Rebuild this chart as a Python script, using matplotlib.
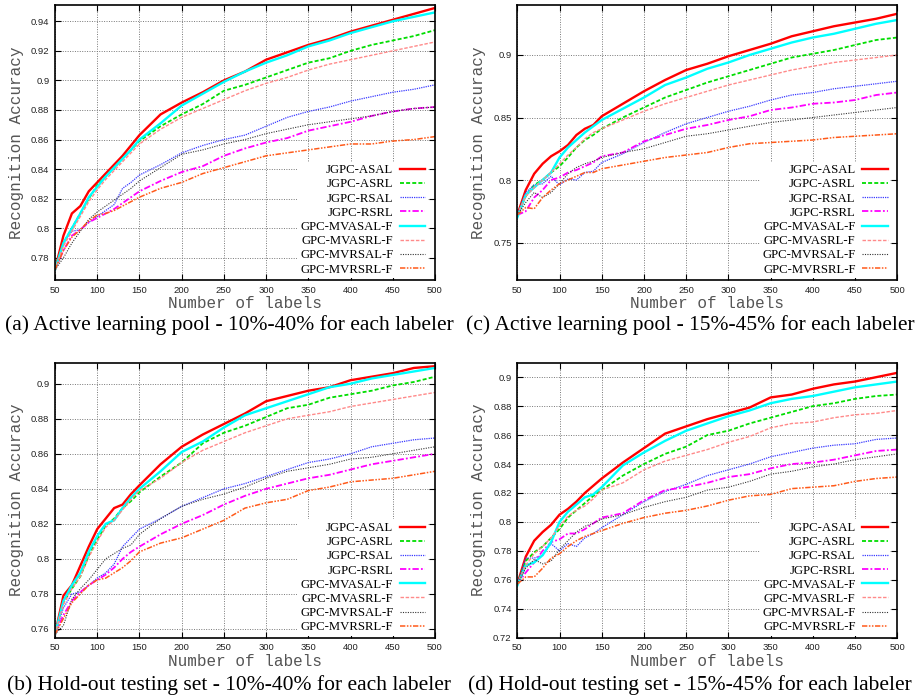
import matplotlib
matplotlib.use("Agg")
import matplotlib.pyplot as plt

x_labels = [50, 60, 70, 80, 90, 100, 110, 120, 130, 140, 150, 175, 200, 225, 250,
            275, 300, 325, 350, 375, 400, 425, 450, 475, 500]

series_names = ["JGPC-ASAL", "JGPC-ASRL", "JGPC-RSAL", "JGPC-RSRL",
                "GPC-MVASAL-F", "GPC-MVASRL-F", "GPC-MVRSAL-F", "GPC-MVRSRL-F"]

# (a) Active learning pool - 10%-40%
a_asal = [0.772,0.795,0.810,0.815,0.825,0.831,0.837,0.843,0.849,0.856,0.863,0.877,0.885,0.892,0.900,0.906,0.914,0.919,0.924,0.928,0.933,0.937,0.941,0.945,0.949]
a_asrl = [0.772,0.790,0.800,0.810,0.820,0.829,0.835,0.841,0.847,0.853,0.859,0.869,0.877,0.884,0.893,0.897,0.902,0.907,0.912,0.915,0.920,0.924,0.927,0.930,0.934]
a_rsal = [0.772,0.790,0.798,0.799,0.804,0.808,0.812,0.816,0.827,0.831,0.836,0.843,0.851,0.856,0.860,0.863,0.869,0.875,0.879,0.882,0.886,0.889,0.892,0.894,0.897]
a_rsrl = [0.772,0.785,0.795,0.799,0.804,0.807,0.810,0.813,0.817,0.821,0.825,0.832,0.838,0.842,0.849,0.854,0.858,0.861,0.866,0.869,0.872,0.876,0.879,0.881,0.882]
a_mvasal = [0.772,0.790,0.800,0.810,0.821,0.828,0.835,0.841,0.847,0.853,0.860,0.871,0.883,0.891,0.899,0.906,0.912,0.917,0.923,0.927,0.932,0.936,0.940,0.943,0.946]
a_mvasrl = [0.772,0.788,0.798,0.808,0.818,0.826,0.833,0.839,0.845,0.851,0.857,0.867,0.875,0.881,0.887,0.893,0.898,0.902,0.907,0.911,0.914,0.917,0.920,0.923,0.926]
a_mvrsal = [0.772,0.780,0.790,0.798,0.806,0.811,0.815,0.819,0.823,0.827,0.832,0.841,0.850,0.853,0.857,0.860,0.864,0.867,0.870,0.872,0.874,0.876,0.879,0.881,0.882]
a_mvrsrl = [0.772,0.785,0.794,0.799,0.805,0.809,0.810,0.812,0.815,0.818,0.821,0.827,0.831,0.837,0.841,0.845,0.849,0.851,0.853,0.855,0.857,0.857,0.859,0.860,0.862]

# (c) Active learning pool - 15%-45%
c_asal = [0.772,0.792,0.805,0.813,0.819,0.823,0.828,0.836,0.841,0.844,0.851,0.861,0.871,0.880,0.888,0.893,0.899,0.904,0.909,0.915,0.919,0.923,0.926,0.929,0.933]
c_asrl = [0.772,0.787,0.796,0.800,0.806,0.811,0.818,0.826,0.832,0.836,0.841,0.850,0.858,0.866,0.872,0.878,0.883,0.888,0.893,0.898,0.901,0.904,0.908,0.912,0.914]
c_rsal = [0.772,0.790,0.796,0.797,0.803,0.796,0.801,0.800,0.806,0.807,0.814,0.821,0.830,0.838,0.845,0.850,0.855,0.859,0.864,0.868,0.870,0.873,0.875,0.877,0.879]
c_rsrl = [0.772,0.775,0.786,0.792,0.800,0.802,0.806,0.808,0.811,0.814,0.819,0.822,0.831,0.836,0.841,0.844,0.848,0.851,0.856,0.858,0.861,0.862,0.864,0.868,0.870]
c_mvasal = [0.770,0.788,0.794,0.800,0.806,0.818,0.826,0.832,0.838,0.843,0.848,0.857,0.866,0.876,0.882,0.889,0.894,0.900,0.905,0.910,0.914,0.917,0.921,0.925,0.928]
c_mvasrl = [0.772,0.787,0.794,0.800,0.806,0.813,0.820,0.826,0.833,0.838,0.841,0.848,0.855,0.861,0.866,0.871,0.876,0.880,0.884,0.888,0.891,0.894,0.896,0.898,0.900]
c_mvrsal = [0.772,0.782,0.790,0.786,0.790,0.797,0.805,0.810,0.813,0.815,0.818,0.822,0.825,0.830,0.835,0.837,0.840,0.843,0.846,0.848,0.850,0.852,0.854,0.856,0.858]
c_mvrsrl = [0.772,0.778,0.777,0.786,0.792,0.797,0.800,0.803,0.806,0.806,0.809,0.812,0.815,0.818,0.820,0.822,0.826,0.829,0.830,0.831,0.832,0.834,0.835,0.836,0.837]

# (b) Hold-out testing set - 10%-40%
b_asal = [0.757,0.779,0.785,0.796,0.807,0.817,0.823,0.829,0.831,0.837,0.842,0.854,0.864,0.871,0.877,0.883,0.890,0.893,0.896,0.898,0.902,0.904,0.906,0.909,0.910]
b_asrl = [0.757,0.775,0.783,0.790,0.802,0.811,0.819,0.823,0.829,0.833,0.838,0.847,0.855,0.866,0.872,0.876,0.881,0.886,0.888,0.892,0.894,0.896,0.899,0.901,0.904]
b_rsal = [0.757,0.772,0.780,0.781,0.785,0.789,0.792,0.797,0.807,0.812,0.817,0.823,0.830,0.835,0.840,0.843,0.847,0.851,0.855,0.857,0.860,0.864,0.866,0.868,0.869]
b_rsrl = [0.757,0.768,0.776,0.781,0.785,0.788,0.791,0.795,0.800,0.804,0.807,0.814,0.820,0.825,0.831,0.836,0.840,0.843,0.846,0.848,0.851,0.854,0.856,0.858,0.860]
b_mvasal = [0.757,0.776,0.785,0.792,0.804,0.813,0.820,0.822,0.829,0.835,0.840,0.850,0.861,0.867,0.875,0.882,0.886,0.890,0.894,0.898,0.900,0.903,0.905,0.907,0.909]
b_mvasrl = [0.757,0.774,0.783,0.790,0.801,0.810,0.818,0.822,0.828,0.834,0.839,0.846,0.855,0.862,0.867,0.872,0.876,0.880,0.882,0.884,0.887,0.889,0.891,0.893,0.895]
b_mvrsal = [0.757,0.762,0.777,0.783,0.788,0.794,0.800,0.803,0.806,0.808,0.814,0.823,0.830,0.834,0.837,0.841,0.846,0.850,0.852,0.854,0.857,0.858,0.860,0.862,0.864]
b_mvrsrl = [0.757,0.766,0.775,0.780,0.785,0.788,0.789,0.792,0.795,0.799,0.804,0.809,0.812,0.817,0.822,0.829,0.832,0.834,0.839,0.841,0.844,0.845,0.846,0.848,0.850]

# (d) Hold-out testing set - 15%-45%
d_asal = [0.757,0.776,0.787,0.793,0.798,0.805,0.809,0.814,0.820,0.825,0.830,0.841,0.851,0.861,0.866,0.871,0.875,0.879,0.886,0.888,0.892,0.895,0.897,0.900,0.903]
d_asrl = [0.757,0.773,0.779,0.783,0.789,0.795,0.803,0.808,0.813,0.818,0.822,0.832,0.840,0.847,0.852,0.860,0.863,0.868,0.872,0.876,0.880,0.882,0.885,0.887,0.888]
d_rsal = [0.757,0.775,0.775,0.777,0.785,0.780,0.785,0.783,0.789,0.792,0.796,0.805,0.814,0.821,0.826,0.832,0.836,0.840,0.845,0.848,0.851,0.853,0.854,0.857,0.858]
d_rsrl = [0.757,0.765,0.772,0.780,0.786,0.788,0.792,0.792,0.795,0.799,0.803,0.806,0.815,0.822,0.824,0.827,0.831,0.833,0.837,0.840,0.841,0.843,0.846,0.849,0.850]
d_mvasal = [0.756,0.770,0.772,0.777,0.786,0.800,0.807,0.812,0.817,0.819,0.824,0.839,0.848,0.856,0.863,0.868,0.873,0.877,0.882,0.885,0.887,0.890,0.893,0.895,0.897]
d_mvasrl = [0.757,0.770,0.778,0.783,0.789,0.797,0.804,0.808,0.811,0.816,0.822,0.827,0.836,0.842,0.846,0.850,0.855,0.859,0.865,0.868,0.869,0.872,0.874,0.875,0.877]
d_mvrsal = [0.757,0.768,0.774,0.771,0.773,0.781,0.787,0.793,0.797,0.799,0.802,0.805,0.810,0.814,0.817,0.822,0.824,0.828,0.833,0.835,0.838,0.840,0.843,0.845,0.847]
d_mvrsrl = [0.757,0.762,0.762,0.768,0.775,0.778,0.783,0.787,0.790,0.792,0.794,0.799,0.803,0.806,0.808,0.811,0.815,0.818,0.819,0.823,0.824,0.825,0.828,0.830,0.831]

captions = ["(a) Active learning pool - 10%-40% for each labeler",
            "(c) Active learning pool - 15%-45% for each labeler",
            "(b) Hold-out testing set - 10%-40% for each labeler",
            "(d) Hold-out testing set - 15%-45% for each labeler"]

panel_data = [
    [a_asal, a_asrl, a_rsal, a_rsrl, a_mvasal, a_mvasrl, a_mvrsal, a_mvrsrl],
    [c_asal, c_asrl, c_rsal, c_rsrl, c_mvasal, c_mvasrl, c_mvrsal, c_mvrsrl],
    [b_asal, b_asrl, b_rsal, b_rsrl, b_mvasal, b_mvasrl, b_mvrsal, b_mvrsrl],
    [d_asal, d_asrl, d_rsal, d_rsrl, d_mvasal, d_mvasrl, d_mvrsal, d_mvrsrl],
]

y_limits = [(0.765, 0.951), (0.72, 0.94), (0.755, 0.912), (0.72, 0.91)]
y_ticks = [
    [0.78, 0.80, 0.82, 0.84, 0.86, 0.88, 0.90, 0.92, 0.94],
    [0.75, 0.80, 0.85, 0.90],
    [0.76, 0.78, 0.80, 0.82, 0.84, 0.86, 0.88, 0.90],
    [0.72, 0.74, 0.76, 0.78, 0.80, 0.82, 0.84, 0.86, 0.88, 0.90],
]
x_ticks = [50, 100, 150, 200, 250, 300, 350, 400, 450, 500]

styles = [
    dict(color="#ff0000", lw=1.7, ls="-"),
    dict(color="#00dd00", lw=1.3, ls=(0, (2.2, 1.2))),
    dict(color="#3a3aff", lw=0.9, ls=(0, (1, 0.8))),
    dict(color="#ff00ff", lw=1.3, ls=(0, (3.5, 1.2, 1, 1.2))),
    dict(color="#00ffff", lw=1.7, ls="-"),
    dict(color="#ff8a8a", lw=1.0, ls=(0, (2.5, 1.2))),
    dict(color="#333333", lw=0.8, ls=(0, (1, 1.2))),
    dict(color="#ff5a1a", lw=1.1, ls=(0, (3.5, 1, 1, 1, 1, 1))),
]

fig = plt.figure(figsize=(9.19, 7.00), dpi=100)

W = 380 / 919
H = 275 / 700
positions = [
    (55 / 919, 1 - 280 / 700, W, H),
    (517.3 / 919, 1 - 280 / 700, W, H),
    (55 / 919, 1 - 637.7 / 700, W, H),
    (517.3 / 919, 1 - 637.7 / 700, W, H),
]
caption_pos = [(229, 325), (690, 325), (229, 685), (690, 685)]

for k in range(4):
    ax = fig.add_axes(positions[k])
    for name, vals, st in zip(series_names, panel_data[k], styles):
        ax.plot(x_labels, vals, label=name, color=st["color"], lw=st["lw"],
                ls=st["ls"], solid_joinstyle="miter")
    ax.set_xlim(50, 500)
    ax.set_ylim(*y_limits[k])
    ax.set_xticks(x_ticks)
    ax.set_yticks(y_ticks[k])
    ax.set_yticklabels([("%g" % v) for v in y_ticks[k]])
    ax.grid(True, color="#777777", ls=(0, (1, 1.5)), lw=0.7)
    ax.tick_params(direction="in", length=4, width=0.8, top=True, right=True,
                   labelsize=6.8, pad=4, colors="black")
    for lab in ax.get_xticklabels() + ax.get_yticklabels():
        lab.set_color("#222222")
        lab.set_family("Liberation Sans")
    for sp in ax.spines.values():
        sp.set_linewidth(1.2)
    ax.set_xlabel("Number of labels", family="Liberation Mono", fontsize=11.5,
                  color="#555555", labelpad=1)
    ax.set_ylabel("Recognition Accuracy", family="Liberation Mono", fontsize=11.5,
                  color="#555555", labelpad=5)
    ax.legend(loc="lower right", bbox_to_anchor=(0.986, 0.0),
              markerfirst=False, frameon=True,
              fancybox=False, framealpha=1, edgecolor="none",
              facecolor="white", prop={"family": "Liberation Serif", "size": 9.2},
              handlelength=2.0, handletextpad=0.5, labelspacing=0.17,
              borderaxespad=0.15, borderpad=0.2)
    fig.text(caption_pos[k][0] / 919, 1 - caption_pos[k][1] / 700, captions[k],
             ha="center", va="center", family="Liberation Serif", fontsize=15.5)

fig.savefig("out.png", dpi=100)
